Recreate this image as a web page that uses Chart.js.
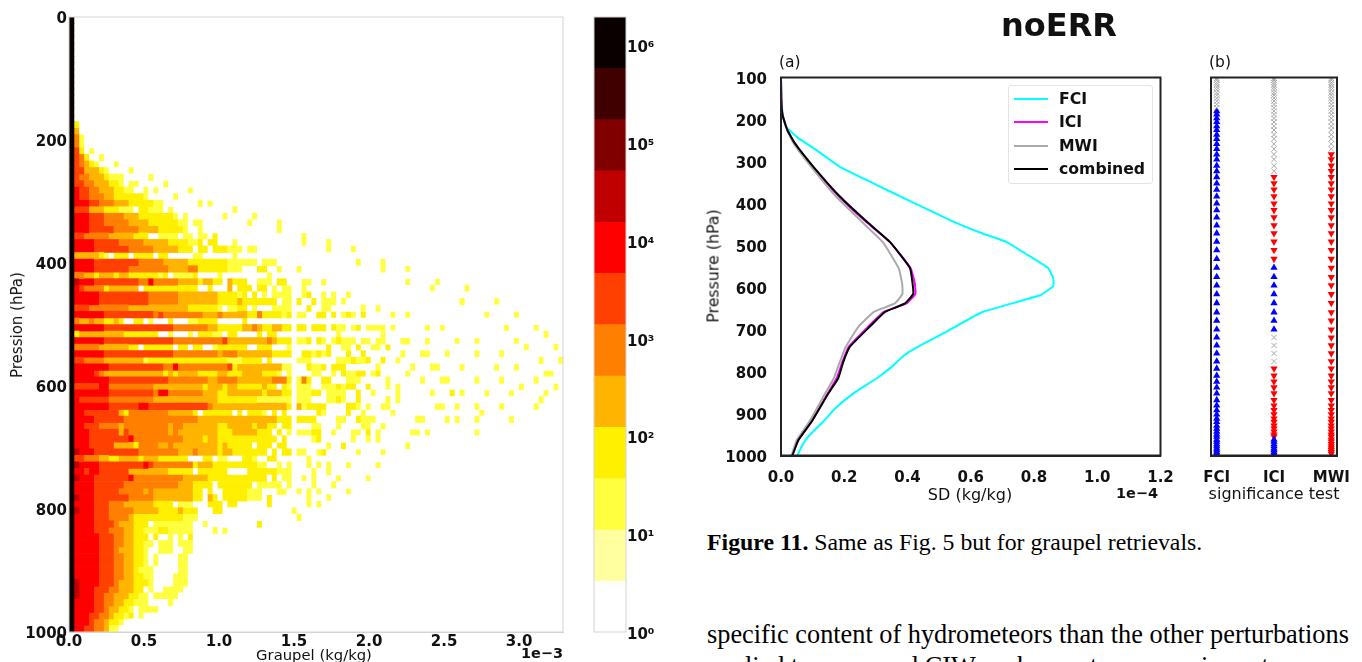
<!DOCTYPE html>
<html>
<head>
<meta charset="utf-8">
<script src="https://cdn.jsdelivr.net/npm/chart.js@4"></script>
<style>
html, body { margin: 0; padding: 0; background: #fff; width: 1362px; height: 662px; overflow: hidden; }
canvas { position: absolute; }
.t { position: absolute; font-family: "DejaVu Sans"; color: #111; white-space: nowrap; }
.rot { transform: translate(-50%, -50%) rotate(-90deg); }
.mid { transform: translate(-50%, -50%); }
.serif { font-family: "Liberation Serif"; color: #000; }
#legend { position: absolute; left: 1008px; top: 85px; width: 143px; height: 97px; border: 1px solid #e4e4e4; border-radius: 3px; }
#legend div { position: absolute; left: 5px; height: 23px; }
#legend i { position: absolute; left: 0; top: 11px; width: 34px; height: 2px; }
#legend b { position: absolute; left: 45px; top: 2px; font: bold 15.7px "DejaVu Sans"; color: #111; }
</style>
</head>
<body>
<canvas id="heat" width="575" height="662" style="left:0;top:0"></canvas>
<canvas id="cbar" width="100" height="662" style="left:580px;top:0"></canvas>
<canvas id="profile" width="490" height="440" style="left:700px;top:60px"></canvas>
<canvas id="signif" width="172" height="440" style="left:1190px;top:60px"></canvas>
<div id="legend"></div>

<span class="t rot" style="left:17px;top:325px;font-size:15px">Pression (hPa)</span>
<span class="t mid" style="left:314px;top:654px;font-size:14.8px">Graupel (kg/kg)</span>
<span class="t mid" style="left:542px;top:653px;font-size:14.5px;font-weight:bold">1e−3</span>
<span class="t mid" style="left:1059px;top:25px;font-size:32px;font-weight:bold">noERR</span>
<span class="t" style="left:779px;top:53px;font-size:15.5px">(a)</span>
<span class="t" style="left:1209px;top:53px;font-size:15.5px">(b)</span>
<span class="t rot" style="left:713px;top:266px;font-size:15.8px">Pressure (hPa)</span>
<span class="t mid" style="left:970px;top:494px;font-size:16px">SD (kg/kg)</span>
<span class="t mid" style="left:1137px;top:493px;font-size:14.5px;font-weight:bold">1e−4</span>
<span class="t mid" style="left:1274px;top:493px;font-size:16px">significance test</span>
<span class="t serif" style="left:707px;top:529px;font-size:23.8px"><b>Figure 11.</b> Same as Fig. 5 but for graupel retrievals.</span>
<span class="t serif" style="left:707px;top:620px;font-size:26.3px">specific content of hydrometeors than the other perturbations</span>
<span class="t serif" style="left:707px;top:652px;font-size:26.3px">applied to snow and CIW such as auto-conversion rates</span>

<script>
// colour classes of the count histogram, lowest first
const levelColors = ['#ffffff', '#ffffa0', '#ffff40', '#fff000', '#ffb400', '#ff8000', '#ff4000',
    '#ff0000', '#c00000', '#800000', '#400000', '#0a0000'];
const levelKeys = '.123456789ab';
const cbarBounds = [1, 3.3, 11, 37, 124, 415, 1390, 4650, 15500, 52000, 174000, 583000, 1950000];
const cbarTicks = [1, 10, 100, 1000, 10000, 100000, 1000000];
const cbarLabels = ['10⁰', '10¹', '10²', '10³', '10⁴', '10⁵', '10⁶'];

// one char per graupel bin, one string per pressure bin (top to bottom)
const heatRows = [
    'b','b','b','b','b','b','b','b','b','b','b','b','b','b','b','b',
    'b3', 'b4', 'b52', 'b52', 'b63.2', 'b653..2', 'b6543 2...2',
    'b6644 432.. ..2', 'b6554 44322 2.... .2', 'b6655 44433 2.22. ....2',
    'b7665 54443 322.. 2.2.. ....2', 'b7665 55443 33333 2.... .2', 'b7776 65554 44333 3322. ..... .2.2.',
    'b6664 44333 222.3 3222. 2.... ..... ...2.', 'b7776 66555 54443 33333 32.2. ..... .2... ..2',
    'b7776 66555 55444 43333 3322. 22... ..... .2... ..2', 'b7776 66665 55554 44433 3332. .2... ..... ..... ..2',
    'b6655 55544 44433 3..22 22.22 .22.3', 'b7777 66666 55555 44444 33332 23.33 ...2.',
    'b7777 66666 66555 55444 44333 .33.3 33222 .22',
    'b4444 432.3 33.33 33.33 ..... 22... ...2.',
    'b7777 66666 66665 55554 44443 33333 33222 222.2 22',
    'b7777 66666 66555 55555 44445 53333 33222 ...33 ..2',
    'b5544 34443 44333 33323 .2222 3.... 2.... ..... 2',
    'b8777 66666 66665 57555 55444 43443 3.433 3..22 2.33',
    'b7655 55344 4444. 33333 33333 3..3. ..4.3 33.33 .2.22',
    'b7777 76666 66666 65555 55444 44444 33332 3.3.2 .2222',
    'b7777 76666 66666 65555 55444 44444 33334 33333 33.22',
    'b6665 55555 55444 44444 44443 33333 2.223 3.2.. .2222',
    'b7777 77666 66666 66565 55555 55444 54444 43353 33323',
    'b5445 44334 3..33 .2... 3...2 23333 ..... 3',
    'b7777 77666 66666 66666 65555 55544 33333 44543 34433',
    'b3444 44444 43333 333.. 2...2 .3332 2.33. ...3. 33',
    'b7777 77666 66666 66666 65555 55555 56444 44444 54333',
    'b5555 54444 4433. 33333 3.33. 33..2 33333 3..33 3...2',
    'b7777 77666 66666 66666 65555 55555 45554 44444 43333',
    'b6655 55444 44444 23333 33333 33333 33222 3333. 3',
    'b7777 77766 66666 66665 57555 55555 55634 44444 44422',
    'b7777 65444 44444 44443 43444 43333 44333 44443 332.2',
    'b7777 77766 66666 66666 55555 55544 55554 44444 45553',
    'b6666 67755 55555 55444 44444 44344 43443 33334 33.32',
    'b7777 77766 66666 66577 55555 55444 33444 44443 44433',
    'b7666 66655 55555 55444 44444 44444 33333 33322 22222',
    'b7777 77766 66667 76666 66666 66654 44444 44444 44443',
    'b7766 66666 43555 55555 44444 3.333 333.3 .3332 .3.3',
    'b7777 66666 65555 55555 55555 54444 44444 44444 44333',
    'b7766 65555 45555 55555 45544 44444 33444 44344 33.33',
    'b7776 66666 46555 55555 45444 44444 33344 44433 3.3.2',
    'b7776 66666 66755 55555 55544 44344 33333 33333 33.3',
    'b7776 66664 44435 55544 54444 44444 34333 33.33 3.33',
    'b8777 66666 66665 55555 55444 54444 34433 33333 .3.33',
    'b6655 54433 44443 44433 3333. ..33. 22... 332.. 33',
    'b8777 76666 66666 76555 55555 34443 33333 33322 ..2.2',
    'b7767 76666 66444 44444 33333 .3333 33... .3333 33222',
    'b8777 66666 66755 55555 55544 44433 33333 33333 .3.22',
    'b7777 66666 65555 55555 55444 3333. 33333 33.22 222.2',
    'b7777 66666 55555 45444 44444 33.3. .3333 3222. ..22',
    'b8777 66666 66555 55444 44444 33.43 .3333 3222. 3',
    'b7777 66655 54444 44333 3.222 ...33 3.33. ..... 3',
    'b8777 66655 55544 44433 33433 3...3 3.... ..... ..... 2',
    'b7777 66655 55433 33333 33322 2.... ..... ..... ..... .2',
    'b7777 66665 44433 3.222 22222 ..2.. ..... ...3',
    'b7777 66655 54433 22233 22222 ....2 .2',
    'b7777 76665 54433 3.3.. 2.2.3',
    'b7777 76665 54433 22.22 2.222',
    'b7777 76665 44433 2..22 2..22',
    'b7777 76665 54433 2.2.. ..22',
    'b7777 76665 54433 2.2.. ..22',
    'b7777 76665 54432 22... ..22',
    'b7777 76665 54433 22... .222',
    'b8777 76665 44433 32... .222',
    'b8777 66655 44433 .2..2 222',
    'b8777 66554 44332 2.222 22',
    'b7777 66554 43322 2.... 2',
    'b7777 66544 332.2 222',
    'b7776 65543 323.2',
    'b7776 55433 2',
    'b7766 55422'
];

// isolated cells beyond the dense part: [row, column, colour class]
const outerCells = [
    [33,47,2],[34,47,2],[34,52,2],[35,52,2],[35,57,2],[37,58,2],[37,63,2],[38,63,2],[38,68,2],[38,46,2],
    [40,47,2],[40,48,2],[40,51,2],[40,68,2],[40,74,2],[41,47,2],[41,73,2],[41,80,2],
    [42,47,2],[42,48,3],[42,51,2],[42,53,2],[42,56,2],[43,46,3],[43,49,3],[43,51,2],[43,52,2],[43,53,2],[43,55,2],[43,79,2],[43,86,2],
    [44,48,3],[44,51,2],[44,52,2],[44,59,2],[44,62,2],
    [45,46,2],[45,47,2],[45,50,3],[45,51,3],[45,53,3],[45,55,2],[45,56,3],[45,57,2],[45,59,3],[45,65,2],[45,68,2],[45,84,2],[45,90,2],
    [47,46,3],[47,47,3],[47,49,3],[47,50,3],[47,51,3],[47,53,3],[47,54,2],[47,55,2],[47,57,2],[47,58,3],[47,60,2],[47,61,2],[47,62,2],[47,63,2],[47,65,2],[47,72,2],[47,75,2],[47,88,2],[47,94,2],
    [48,54,2],[48,63,2],[48,96,2],
    [49,46,2],[49,47,2],[49,48,3],[49,50,3],[49,51,2],[49,53,2],[49,54,3],[49,55,2],[49,56,2],[49,57,2],[49,59,2],[49,60,2],[49,62,2],[49,63,2],[49,67,2],[49,68,2],[49,72,2],[49,78,2],[49,82,2],[49,90,2],
    [50,52,3],[50,55,2],[50,56,2],[50,58,3],[50,61,2],[50,62,2],[50,64,3],[50,92,2],[50,98,2],
    [51,47,3],[51,48,3],[51,49,2],[51,50,3],[51,51,2],[51,52,3],[51,56,3],[51,59,3],[51,67,2],[51,71,2],[51,72,2],[51,76,2],[51,82,2],[51,87,2],
    [52,46,2],[52,47,2],[52,48,2],[52,54,2],[52,55,2],[52,56,2],[52,57,3],[52,58,2],[52,59,2],[52,60,3],[52,63,3],[52,66,2],[52,95,2],[52,99,2],
    [53,48,3],[53,49,2],[53,50,2],[53,51,3],[53,53,3],[53,54,3],[53,55,3],[53,62,2],[53,69,2],[53,73,2],[53,74,2],[53,79,2],[53,86,2],[53,90,2],
    [54,49,2],[54,50,2],[54,53,2],[54,55,3],[54,56,2],[54,57,2],[54,58,3],[54,59,3],[54,61,2],[54,62,3],[54,68,2],[54,96,2],[54,97,2],
    [55,46,2],[55,47,5],[55,48,3],[55,51,3],[55,52,3],[55,56,2],[55,57,2],[55,58,2],[55,64,2],[55,71,2],[55,75,2],[55,76,2],[55,82,2],[55,87,2],[55,94,2],
    [56,46,2],[56,47,2],[56,48,2],[56,51,2],[56,52,2],[56,53,2],[56,54,3],[56,55,2],[56,56,3],[56,57,3],[56,60,3],[56,64,2],[56,66,2],[56,91,2],[56,98,2],
    [57,46,2],[57,47,2],[57,48,2],[57,49,3],[57,50,3],[57,52,2],[57,53,2],[57,54,2],[57,55,2],[57,58,3],[57,61,2],[57,66,2],[57,73,2],[57,77,3],[57,79,2],[57,84,2],[57,89,2],[57,96,2],
    [58,46,2],[58,47,2],[58,48,2],[58,52,2],[58,53,2],[58,54,3],[58,55,2],[58,58,3],[58,64,2],[58,66,2],[58,95,2],
    [59,46,4],[59,47,2],[59,48,3],[59,49,3],[59,50,3],[59,51,3],[59,56,3],[59,57,3],[59,58,2],[59,60,2],[59,63,2],[59,64,2],[59,74,2],[59,75,2],[59,78,2],[59,82,2],[59,87,2],[59,94,2],
    [60,50,3],[60,51,2],[60,56,3],[60,59,2],[60,65,2],[60,83,2],
    [61,46,3],[61,47,3],[61,48,3],[61,49,3],[61,54,2],[61,55,2],[61,58,3],[61,59,2],[61,60,2],[61,61,2],[61,70,2],[61,71,2],[61,76,2],[61,78,2],[61,82,2],[61,89,2],
    [62,49,2],[62,50,2],[62,54,2],[62,59,2],[62,60,2],[62,63,2],
    [63,46,2],[63,47,2],[63,48,2],[63,49,3],[63,50,3],[63,53,2],[63,57,2],[63,58,2],[63,60,3],[63,62,2],[63,69,2],[63,70,2],[63,72,2],[63,82,2],
    [64,49,2],[64,50,3],[64,57,2],[64,60,2],[64,62,2],
    [65,52,2],[65,55,3],[65,68,2],
    [66,46,2],[66,47,2],[66,50,2],[66,51,3],[66,58,2],[66,63,2],
    [67,48,2],[68,48,2],[68,50,2],[68,52,2],[68,56,2],[68,62,2],[69,52,2],
    [69,49,2],[70,49,2],[71,49,2],[70,47,2],[70,54,2],[70,60,2],[71,53,2],
    [72,46,2],[72,48,2],[73,48,2],[74,48,2],[72,50,2],[72,56,2],[73,52,2],[74,50,2],[76,46,2]
];
const heatCols = 100;
const heatMax = 3.293; // 1e-3 kg/kg
const heatXTicks = [0, 0.5, 1, 1.5, 2, 2.5, 3];

// SD profiles, 1e-4 kg/kg
const seriesNames = ['FCI', 'ICI', 'MWI', 'combined'];
const seriesColors = ['#00ffff', '#ff00ff', '#aaaaaa', '#000000'];
const fciP = [100,154,193,217,245,273,312,352,398,443,469,492,519,554,578,596,618,659,705,745,763,792,816,852,888,919,955,979,1000];
const fciSD = [0,0.001,0.007,0.016,0.056,0.112,0.185,0.292,0.418,0.545,0.629,0.714,0.772,0.845,0.861,0.861,0.821,0.635,0.524,0.424,0.387,0.345,0.303,0.229,0.171,0.134,0.086,0.065,0.052];
const otherP = [100,154,190,225,257,312,384,443,492,554,590,615,638,658,693,741,777,816,852,919,963,1000];
const iciSD = [0,0.001,0.005,0.02,0.044,0.1,0.184,0.268,0.345,0.41,0.423,0.425,0.397,0.325,0.276,0.214,0.194,0.176,0.148,0.097,0.055,0.036];
const mwiSD = [0,0.001,0.005,0.02,0.04,0.095,0.175,0.255,0.322,0.372,0.383,0.384,0.36,0.294,0.245,0.205,0.186,0.167,0.14,0.09,0.05,0.033];
const combinedSD = [0,0.001,0.005,0.02,0.044,0.102,0.187,0.271,0.345,0.408,0.416,0.418,0.392,0.329,0.281,0.218,0.197,0.181,0.15,0.097,0.055,0.036];

// significance test, x = not significant, u = increase, d = decrease
const sigSensors = ['FCI', 'ICI', 'MWI'];
const sigLevels = [102,106,112,117,123,129,136,142,149,156,164,172,180,188,197,206,216,225,236,246,258,270,283,295,310,323,337,352,367,383,400,416,433,452,471,491,511,532,553,575,595,616,637,659,679,700,719,738,757,776,793,810,824,838,852,868,881,892,902,912,920,929,936,943,950,955,962,967,973,978,983,987,992,996];
const sigFci = 'xxxxxxxxxx xxuuuuuuuu uuuuuuuuuu uuuuuuuuuu uuuuuuuuuu uuuuuuuuuu uuuuuuuuuu uuuu';
const sigIci = 'xxxxxxxxxx xxxxxxxxxx xxxxxxdddd dddddddduu uuuuuuxxxx dddddddddd dddddduuuu uuuu';
const sigMwi = 'xxxxxxxxxx xxxxxxxxxx xxdddddddd dddddddddd dddddddddd dddddddddd dddddddddd dddd';

const font = 'DejaVu Sans';
Chart.defaults.font.family = font;
Chart.defaults.color = '#111';
Chart.defaults.animation = false;
Chart.defaults.responsive = false;
Chart.defaults.plugins.legend.display = false;
Chart.defaults.plugins.tooltip.enabled = false;

const boldTicks = { family: font, size: 15, weight: 'bold' };

// tick labels may hang over the plot area, don't let them shrink it
const noOverhang = s => { s.paddingLeft = s.paddingRight = s.paddingTop = s.paddingBottom = 0; };
const fixedHeight = h => s => { s.height = h; noOverhang(s); };
const fixedWidth = w => s => { s.width = w; noOverhang(s); };

// box round the plot area
const frame = {
    id: 'frame',
    afterDraw(chart, args, opts) {
        const a = chart.chartArea, c = chart.ctx;
        c.save();
        c.strokeStyle = opts.color;
        c.lineWidth = opts.width;
        c.strokeRect(a.left, a.top, a.width, a.height);
        c.restore();
    }
};

// heat map: each row becomes runs of equal colour, stacked along x
const grid = heatRows.map(r => {
    const cells = new Array(heatCols).fill(0);
    r.replace(/ /g, '').split('').forEach((ch, i) => { cells[i] = levelKeys.indexOf(ch); });
    return cells;
});
outerCells.forEach(([r, c, l]) => { if (grid[r][c] === 0) grid[r][c] = l; });

const colWidth = heatMax / heatCols;
const runs = grid.map(cells => {
    const out = [];
    cells.forEach(l => {
        const last = out[out.length - 1];
        if (last && last.l === l) last.n++;
        else out.push({ l, n: 1 });
    });
    return out;
});
const maxRuns = Math.max(...runs.map(r => r.length));
const heatSets = [];
for (let k = 0; k < maxRuns; k++) {
    heatSets.push({
        data: runs.map(r => (r[k] ? r[k].n * colWidth : null)),
        backgroundColor: runs.map(r => (r[k] ? levelColors[r[k].l] : '#fff')),
        yAxisID: 'y',
        barPercentage: 1,
        categoryPercentage: 1,
        borderWidth: 0
    });
}

new Chart(document.getElementById('heat'), {
    type: 'bar',
    data: { labels: heatRows.map((r, i) => i), datasets: heatSets },
    options: {
        indexAxis: 'y',
        layout: { padding: { top: 17, right: 12 } },
        scales: {
            x: {
                stacked: true, min: 0, max: heatMax,
                grid: { display: false, drawTicks: false },
                border: { color: '#d4d4d4' },
                afterBuildTicks: s => { s.ticks = heatXTicks.map(v => ({ value: v })); },
                afterFit: fixedHeight(30),
                ticks: { font: boldTicks, padding: 1, maxRotation: 0, autoSkip: false, callback: v => v.toFixed(1) }
            },
            y: { stacked: true, display: false },
            p: {
                axis: 'y', type: 'linear', position: 'left', reverse: true, min: 0, max: 1000, offset: false,
                grid: { display: false, drawTicks: false },
                border: { color: '#d4d4d4' },
                afterFit: fixedWidth(69),
                ticks: { font: boldTicks, padding: 2, stepSize: 200, labelOffset: 2.5, callback: v => String(v) }
            }
        },
        plugins: { frame: { color: '#d4d4d4', width: 1 } }
    },
    plugins: [frame]
});

// colour bar, one floating bar per colour class
new Chart(document.getElementById('cbar'), {
    type: 'bar',
    data: {
        labels: ['n'],
        datasets: levelColors.map((col, i) => ({
            data: [[cbarBounds[i], cbarBounds[i + 1]]],
            backgroundColor: col,
            barPercentage: 1,
            categoryPercentage: 1,
            grouped: false
        }))
    },
    options: {
        layout: { padding: { top: 17, bottom: 30, left: 14 } },
        scales: {
            x: { display: false },
            y: {
                type: 'logarithmic', position: 'right',
                min: cbarBounds[0], max: cbarBounds[cbarBounds.length - 1],
                grid: { display: false, drawTicks: false },
                border: { display: false },
                afterBuildTicks: s => { s.ticks = cbarTicks.map(v => ({ value: v })); },
                afterFit: fixedWidth(54),
                ticks: { font: boldTicks, padding: 1, labelOffset: 3, autoSkip: false, callback: v => cbarLabels[cbarTicks.indexOf(v)] }
            }
        },
        plugins: { frame: { color: '#d4d4d4', width: 1 } }
    },
    plugins: [frame]
});

// SD profiles
const toPts = (ps, xs) => xs.map((x, i) => ({ x, y: ps[i] }));
const profiles = [toPts(fciP, fciSD), toPts(otherP, iciSD), toPts(otherP, mwiSD), toPts(otherP, combinedSD)];

new Chart(document.getElementById('profile'), {
    type: 'scatter',
    data: {
        datasets: seriesNames.map((name, i) => ({
            label: name,
            data: profiles[i],
            showLine: true,
            tension: 0.12,
            borderColor: seriesColors[i],
            borderWidth: 2,
            pointRadius: 0,
            order: seriesNames.length - i
        }))
    },
    options: {
        layout: { padding: { top: 17.5, right: 29.5 } },
        scales: {
            x: {
                min: 0, max: 1.2,
                grid: { display: false, drawTicks: false },
                border: { color: '#222', width: 2 },
                afterFit: fixedHeight(44.5),
                ticks: { font: boldTicks, stepSize: 0.2, padding: 14, maxRotation: 0, callback: v => v.toFixed(1) }
            },
            y: {
                reverse: true, min: 100, max: 1000,
                grid: { display: false, drawTicks: false },
                border: { color: '#222', width: 2 },
                afterFit: fixedWidth(81),
                ticks: { font: boldTicks, stepSize: 100, padding: 14, labelOffset: 2.5, callback: v => String(v) }
            }
        },
        plugins: { frame: { color: '#222', width: 2 } }
    },
    plugins: [frame]
});

// significance markers
const sigRows = [sigFci, sigIci, sigMwi].map(s => s.replace(/ /g, ''));
const sigPoints = key => {
    const out = [];
    sigRows.forEach((row, sx) => row.split('').forEach((st, i) => {
        if (st === key) out.push({ x: sx, y: sigLevels[i] });
    }));
    return out;
};

new Chart(document.getElementById('signif'), {
    type: 'scatter',
    data: {
        datasets: [
            { data: sigPoints('x'), pointStyle: 'crossRot', pointRadius: 3.8, pointBorderColor: '#a8a8a8', pointBorderWidth: 1, pointBackgroundColor: '#a8a8a8' },
            { data: sigPoints('u'), pointStyle: 'triangle', pointRadius: 4.2, pointBackgroundColor: '#0000ff', pointBorderColor: '#0000ff', pointBorderWidth: 0 },
            { data: sigPoints('d'), pointStyle: 'triangle', rotation: 180, pointRadius: 4.2, pointBackgroundColor: '#ff0000', pointBorderColor: '#ff0000', pointBorderWidth: 0 }
        ]
    },
    options: {
        layout: { padding: { top: 17.5, right: 25 } },
        scales: {
            x: {
                min: -0.1, max: 2.1,
                grid: { display: false, drawTicks: false },
                border: { color: '#222', width: 2 },
                afterBuildTicks: s => { s.ticks = sigSensors.map((n, i) => ({ value: i })); },
                afterFit: fixedHeight(44.5),
                ticks: { font: boldTicks, padding: 14, autoSkip: false, maxRotation: 0, callback: v => sigSensors[v] }
            },
            y: {
                reverse: true, min: 100, max: 1000,
                grid: { display: false, drawTicks: false },
                border: { color: '#222', width: 2 },
                afterFit: fixedWidth(21),
                ticks: { display: false }
            }
        },
        plugins: { frame: { color: '#222', width: 2 } }
    },
    plugins: [frame]
});

// legend of the profile panel
const legend = document.getElementById('legend');
seriesNames.forEach((name, i) => {
    const row = document.createElement('div');
    row.style.top = (1 + i * 23.4) + 'px';
    row.innerHTML = '<i style="background:' + seriesColors[i] + '"></i><b>' + name + '</b>';
    legend.appendChild(row);
});
</script>
</body>
</html>
